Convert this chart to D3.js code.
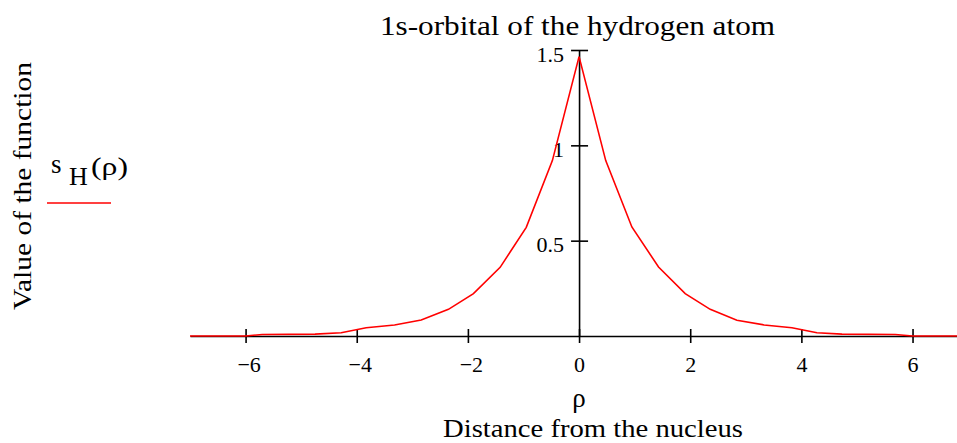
<!DOCTYPE html>
<html>
<head>
<meta charset="utf-8">
<script src="https://cdn.jsdelivr.net/npm/d3@7"></script>
<style>
  html, body { margin: 0; padding: 0; background: #fff; }
  svg { display: block; font-family: "Liberation Serif", "Times New Roman", serif; }
</style>
</head>
<body>
<svg id="chart" width="957" height="443"></svg>
<script>
// Sample points of the 1s radial function s_H(ρ)
const rho = [-7, -6.0, -5.7, -4.75, -4.28, -3.83, -3.32, -2.84, -2.35, -1.9, -1.42, -0.95, -0.48, 0,
             0.48, 0.95, 1.43, 1.91, 2.36, 2.84, 3.33, 3.83, 4.28, 4.73, 5.69, 6.0, 6.8];
const sH = [0, 0, 0.008, 0.01, 0.017, 0.043, 0.058, 0.084, 0.14, 0.222, 0.36, 0.57, 0.92, 1.465,
            0.92, 0.572, 0.362, 0.222, 0.14, 0.083, 0.058, 0.043, 0.017, 0.01, 0.008, 0, 0];
const xTicks = [-6, -4, -2, 0, 2, 4, 6];
const yTicks = [0.5, 1, 1.5];

const svg = d3.select("#chart");
const x = d3.scaleLinear().domain([-7, 6.8]).range([190, 957]);
const y = d3.scaleLinear().domain([0, 1.5]).range([336, 50]);

// horizontal axis
const xAxis = svg.append("g")
  .attr("transform", `translate(0,${y(0)})`)
  .call(d3.axisBottom(x).tickValues(xTicks).tickSizeOuter(0).tickFormat(d3.format("d")));
xAxis.select(".domain").attr("stroke", "#000").attr("stroke-width", 1.6);
xAxis.selectAll(".tick line").attr("y1", -7).attr("y2", 7).attr("stroke-width", 1.6);
xAxis.selectAll(".tick text")
  .attr("y", 36).attr("dy", null).attr("dx", d => d < 0 ? 3 : 0)
  .attr("font-size", 22).attr("font-family", "Liberation Serif").attr("fill", "#000");

// vertical axis
const yAxis = svg.append("g")
  .attr("transform", `translate(${x(0)},0)`)
  .call(d3.axisLeft(y).tickValues(yTicks).tickSizeOuter(0).tickFormat(d => String(d)));
yAxis.select(".domain").attr("stroke", "#000").attr("stroke-width", 1.6);
yAxis.selectAll(".tick line").attr("x1", -8).attr("x2", 9).attr("stroke-width", 1.6);
yAxis.selectAll(".tick text")
  .attr("x", -15).attr("dy", 11)
  .attr("font-size", 22).attr("font-family", "Liberation Serif").attr("fill", "#000");

// curve
const pts = rho.map((r, i) => [r, sH[i]]);
svg.append("path")
  .datum(pts)
  .attr("fill", "none")
  .attr("stroke", "#ff0000")
  .attr("stroke-width", 1.6)
  .attr("d", d3.line().x(d => x(d[0])).y(d => y(d[1])));

// title and axis titles
svg.append("text")
  .attr("x", 380).attr("y", 35)
  .attr("font-size", 28)
  .attr("textLength", 395).attr("lengthAdjust", "spacingAndGlyphs")
  .text("1s-orbital of the hydrogen atom");

svg.append("text")
  .attr("x", x(0)).attr("y", 407).attr("text-anchor", "middle")
  .attr("font-size", 27).text("ρ");

svg.append("text")
  .attr("x", 443).attr("y", 437)
  .attr("font-size", 25)
  .attr("textLength", 300).attr("lengthAdjust", "spacingAndGlyphs")
  .text("Distance from the nucleus");

svg.append("text")
  .attr("transform", "translate(31,310) rotate(-90)")
  .attr("font-size", 25)
  .attr("textLength", 248).attr("lengthAdjust", "spacingAndGlyphs")
  .text("Value of the function");

// legend
const leg = svg.append("g");
leg.append("text").attr("x", 51).attr("y", 173).attr("font-size", 27).text("s");
leg.append("text").attr("x", 69).attr("y", 185).attr("font-size", 26).text("H");
leg.append("text").attr("x", 91).attr("y", 175)
  .attr("font-size", 26)
  .attr("textLength", 37).attr("lengthAdjust", "spacingAndGlyphs")
  .text("(ρ)");
leg.append("line")
  .attr("x1", 47).attr("x2", 111).attr("y1", 203).attr("y2", 203)
  .attr("stroke", "#ff0000").attr("stroke-width", 1.6);
</script>
</body>
</html>
